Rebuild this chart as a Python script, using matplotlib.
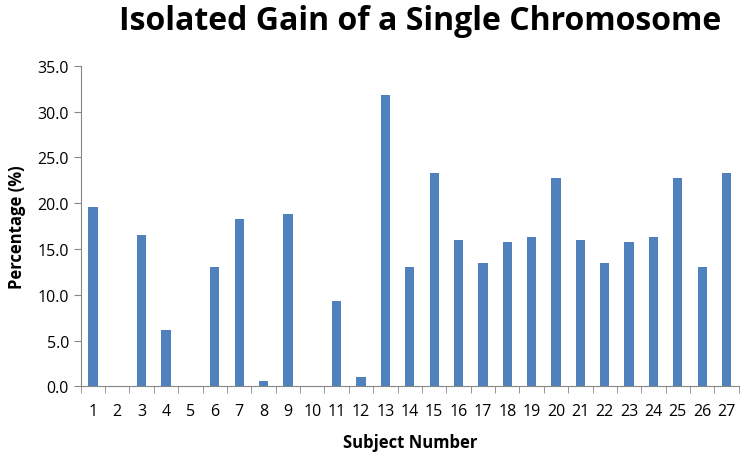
import numpy as np
import matplotlib.pyplot as plt

plt.rcParams['font.family'] = ['Open Sans', 'DejaVu Sans']

# Subject numbers and percentage of isolated single-chromosome gain
subjects = list(range(1, 28))
percentage = [19.6, 0.0, 16.5, 6.1, 0.0, 13.0, 18.3, 0.6, 18.8, 0.0,
              9.3, 1.0, 31.8, 13.0, 23.3, 16.0, 13.5, 15.8, 16.3, 22.7,
              16.0, 13.5, 15.8, 16.3, 22.7, 13.0, 23.3]
y_ticks = [0, 5, 10, 15, 20, 25, 30, 35]

axis_gray = '#868686'

fig = plt.figure(figsize=(7.44, 4.6), dpi=100)
ax = fig.add_axes([0.1085, 0.158, 0.8845, 0.697])

ax.bar(subjects, percentage, width=0.38, color='#4F81BD')

ax.set_xlim(0.5, 27.5)
ax.set_ylim(0, 35)
ax.set_yticks(y_ticks)
ax.set_yticklabels([f'{v:.1f}' for v in y_ticks])
ax.set_xticks(subjects)
ax.set_xticks(np.arange(0.5, 28, 1), minor=True)

for side in ['top', 'right']:
    ax.spines[side].set_visible(False)
for side in ['left', 'bottom']:
    ax.spines[side].set_color(axis_gray)

ax.tick_params(axis='x', which='major', length=0, pad=12, labelsize=11.5)
ax.tick_params(axis='x', which='minor', length=5, color=axis_gray)
ax.tick_params(axis='y', length=5, color=axis_gray, labelsize=11.5)

ax.set_xlabel('Subject Number', fontsize=12, fontweight='bold', labelpad=10)
ax.set_ylabel('Percentage (%)', fontsize=12, fontweight='bold', labelpad=8)
fig.suptitle('Isolated Gain of a Single Chromosome', fontsize=23,
             fontweight='bold', x=0.565, y=0.99)

fig.savefig('out.png', dpi=100)
